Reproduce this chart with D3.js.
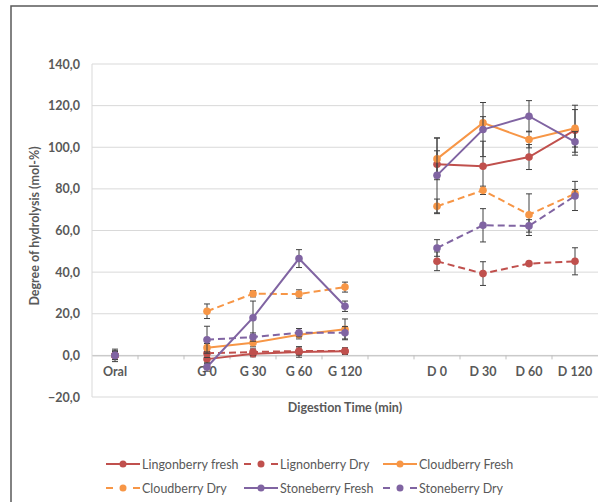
<!DOCTYPE html>
<meta charset="utf-8">
<script src="https://d3js.org/d3.v7.min.js"></script>
<style>
  body { margin: 0; background: #fff; }
  text { font-family: Lato, "Open Sans", sans-serif; fill: #595959; }
</style>
<div id="chart"></div>
<script>
// categories on the x axis (empty ones are spacer slots)
var categories = ["Oral", "", "G 0", "G 30", "G 60", "G 120", "", "D 0", "D 30", "D 60", "D 120"];
var yTicks = [-20, 0, 20, 40, 60, 80, 100, 120, 140];

// series values (mol-%) and their error bars
var lingonFresh    = [0, null, -1.8, 0.8, 1.6, 2.0, null, 91.8, 90.9, 95.3, 108.2];
var lingonFreshErr = [2, null, 2, 1.5, 2.5, 1.5, null, 6.5, 12, 6, 12];
var lingonDry      = [0, null, 1.0, 1.6, 2.1, 2.1, null, 45.2, 39.3, 44.1, 45.2];
var lingonDryErr   = [2, null, 2, 1.5, 2, 1.5, null, 4.5, 5.7, 1, 6.5];
var cloudFresh     = [0, null, 3.7, 6.1, 9.9, 12.5, null, 94.4, 111.7, 103.7, 109.1];
var cloudFreshErr  = [2, null, 2, 2, 2, 5, null, 10, 3, 4, 9];
var cloudDry       = [0, null, 21.2, 29.6, 29.5, 32.8, null, 71.6, 79.3, 67.6, 77.7];
var cloudDryErr    = [2, null, 3.5, 1.5, 2, 2.4, null, 3.5, 2, 10, 2];
var stoneFresh     = [0, null, -5.6, 18.1, 46.5, 23.6, null, 86.5, 108.5, 114.9, 102.6];
var stoneFreshErr  = [2, null, 2, 8, 4.3, 2.5, null, 18, 13, 7.5, 5];
var stoneDry       = [0, null, 7.5, 8.8, 10.9, 10.9, null, 51.6, 62.5, 62.2, 76.6];
var stoneDryErr    = [3, null, 6.5, 2, 2, 3, null, 4, 8, 3, 7];

var seriesNames = ["Lingonberry fresh", "Lignonberry Dry", "Cloudberry Fresh", "Cloudberry Dry", "Stoneberry Fresh", "Stoneberry Dry"];

var series = [
  {name: seriesNames[0], values: lingonFresh, err: lingonFreshErr, color: "#c0504d", dashed: false},
  {name: seriesNames[1], values: lingonDry,   err: lingonDryErr,   color: "#c0504d", dashed: true},
  {name: seriesNames[2], values: cloudFresh,  err: cloudFreshErr,  color: "#f79646", dashed: false},
  {name: seriesNames[3], values: cloudDry,    err: cloudDryErr,    color: "#f79646", dashed: true},
  {name: seriesNames[4], values: stoneFresh,  err: stoneFreshErr,  color: "#8064a2", dashed: false},
  {name: seriesNames[5], values: stoneDry,    err: stoneDryErr,    color: "#8064a2", dashed: true}
];

var W = 598, H = 502;
var margin = {top: 64, left: 92, right: 0, bottom: 105};

var svg = d3.select("#chart").append("svg")
  .attr("width", W)
  .attr("height", H);

// outer frame
svg.append("rect")
  .attr("x", 11).attr("y", 6)
  .attr("width", 620).attr("height", 520)
  .attr("fill", "none")
  .attr("stroke", "#595959")
  .attr("stroke-width", 1.5);

var x = d3.scaleBand()
  .domain(d3.range(categories.length))
  .range([margin.left, W - margin.right]);

var y = d3.scaleLinear()
  .domain([-20, 140])
  .range([397, margin.top]);

// gridlines
svg.append("g")
  .selectAll("line")
  .data(yTicks)
  .enter().append("line")
    .attr("x1", margin.left).attr("x2", W)
    .attr("y1", function(d) { return y(d); })
    .attr("y2", function(d) { return y(d); })
    .attr("stroke", "#d9d9d9")
    .attr("stroke-width", 1);

// left border of plot area
svg.append("line")
  .attr("x1", margin.left).attr("x2", margin.left)
  .attr("y1", y(140)).attr("y2", y(-20))
  .attr("stroke", "#d9d9d9");

// y axis labels
var yAxis = svg.append("g")
  .attr("transform", "translate(" + margin.left + ",0)")
  .call(d3.axisLeft(y).tickValues(yTicks).tickSize(0).tickPadding(12)
    .tickFormat(function(d) { return d3.format(".1f")(d).replace(".", ","); }));
yAxis.select(".domain").remove();
yAxis.selectAll("text")
  .style("font-size", "12.5px")
  .style("font-weight", "bold")
  .attr("fill", "#595959");

// x axis at zero, ticks between categories
var xAxis = svg.append("g")
  .attr("transform", "translate(0," + y(0) + ")")
  .call(d3.axisBottom(x).tickSize(0).tickPadding(12)
    .tickFormat(function(i) { return categories[i]; }));
xAxis.select(".domain").attr("stroke", "#bfbfbf");
xAxis.selectAll("text")
  .style("font-size", "12.5px")
  .style("font-weight", "bold")
  .attr("fill", "#595959");
xAxis.selectAll(".boundary")
  .data(d3.range(1, categories.length))
  .enter().append("line")
    .attr("x1", function(i) { return x(i); })
    .attr("x2", function(i) { return x(i); })
    .attr("y1", 0).attr("y2", 4)
    .attr("stroke", "#bfbfbf");

// axis titles
svg.append("text")
  .attr("transform", "translate(39,226) rotate(-90)")
  .attr("text-anchor", "middle")
  .style("font-size", "12.5px")
  .style("font-weight", "bold")
  .text("Degree of hydrolysis (mol-%)");

svg.append("text")
  .attr("x", (margin.left + W) / 2)
  .attr("y", 412)
  .attr("text-anchor", "middle")
  .style("font-size", "12.5px")
  .style("font-weight", "bold")
  .text("Digestion Time (min)");

var cx = function(i) { return x(i) + x.bandwidth() / 2; };

var line = d3.line()
  .defined(function(d) { return d != null; })
  .x(function(d, i) { return cx(i); })
  .y(function(d) { return y(d); });

series.forEach(function(s) {
  var g = svg.append("g");
  var pts = s.values.map(function(v, i) { return {i: i, v: v, e: s.err[i]}; })
    .filter(function(p) { return p.v != null; });

  g.append("path")
    .datum(s.values)
    .attr("d", line)
    .attr("fill", "none")
    .attr("stroke", s.color)
    .attr("stroke-width", 2)
    .attr("stroke-dasharray", s.dashed ? "7,4" : null);

  // error bars
  var eb = g.selectAll(".eb").data(pts).enter().append("g");
  eb.append("line")
    .attr("x1", function(p) { return cx(p.i); })
    .attr("x2", function(p) { return cx(p.i); })
    .attr("y1", function(p) { return y(p.v + p.e); })
    .attr("y2", function(p) { return y(p.v - p.e); })
    .attr("stroke", "#404040").attr("stroke-width", 1);
  [1, -1].forEach(function(sgn) {
    eb.append("line")
      .attr("x1", function(p) { return cx(p.i) - 3; })
      .attr("x2", function(p) { return cx(p.i) + 3; })
      .attr("y1", function(p) { return y(p.v + sgn * p.e); })
      .attr("y2", function(p) { return y(p.v + sgn * p.e); })
      .attr("stroke", "#404040").attr("stroke-width", 1);
  });

  g.selectAll("circle").data(pts).enter().append("circle")
    .attr("cx", function(p) { return cx(p.i); })
    .attr("cy", function(p) { return y(p.v); })
    .attr("r", 3.8)
    .attr("fill", s.color);
});

// legend
var legendCols = [106, 244, 383];
var legendRows = [464, 488];
series.forEach(function(s, k) {
  var lx = legendCols[k % 3], ly = legendRows[Math.floor(k / 3)];
  var g = svg.append("g").attr("transform", "translate(" + lx + "," + ly + ")");
  g.append("line")
    .attr("x1", 0).attr("x2", 34).attr("y1", 0).attr("y2", 0)
    .attr("stroke", s.color).attr("stroke-width", 2)
    .attr("stroke-dasharray", s.dashed ? "7,20" : null);
  g.append("circle").attr("cx", 17).attr("cy", 0).attr("r", 3.5).attr("fill", s.color);
  g.append("text")
    .attr("x", 36).attr("y", 4.5)
    .style("font-size", "12.5px")
    .text(s.name);
});
</script>
